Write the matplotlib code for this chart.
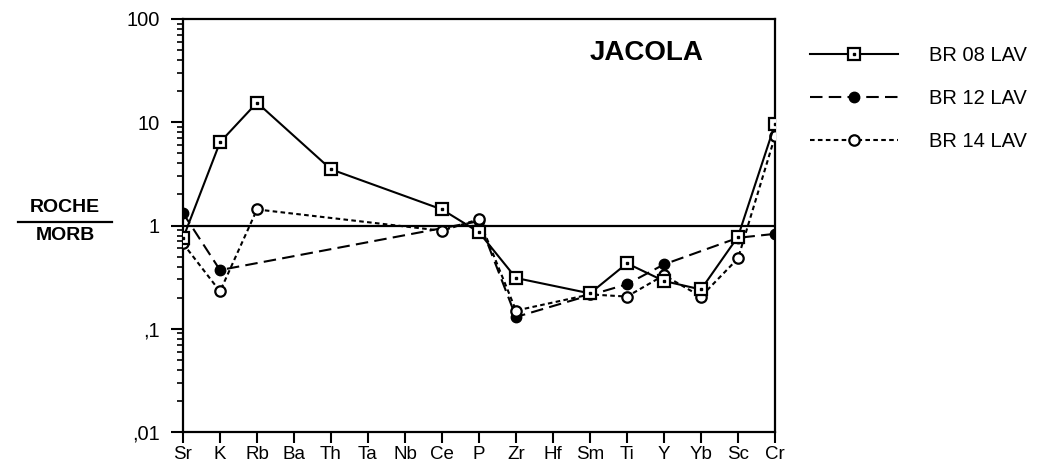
import numpy as np
import matplotlib
matplotlib.use('Agg')
import matplotlib.pyplot as plt
from matplotlib.ticker import FixedLocator, LogLocator, NullFormatter

plt.rcParams['font.family'] = ['Liberation Sans', 'DejaVu Sans']

# elements along the x axis (spider diagram, normalised to MORB)
elements = ['Sr', 'K', 'Rb', 'Ba', 'Th', 'Ta', 'Nb', 'Ce', 'P', 'Zr', 'Hf',
            'Sm', 'Ti', 'Y', 'Yb', 'Sc', 'Cr']
nan = np.nan
br08 = [0.75, 6.4, 15.5, nan, 3.5, nan, nan, 1.43, 0.86, 0.31, nan,
        0.22, 0.43, 0.29, 0.24, 0.78, 9.6]
br12 = [1.32, 0.37, nan, nan, nan, nan, nan, nan, 1.1, 0.13, nan,
        nan, 0.27, 0.42, nan, 0.76, 0.83]
br14 = [0.67, 0.23, 1.43, nan, nan, nan, nan, 0.89, 1.15, 0.15, nan,
        0.215, 0.205, 0.33, 0.205, 0.48, 7.3]
labels = ['BR 08 LAV', 'BR 12 LAV', 'BR 14 LAV']
ytick_vals = [0.01, 0.1, 1, 10, 100]
ytick_labels = [',01', ',1', '1', '10', '100']

W, H = 1051, 476
fig = plt.figure(figsize=(W / 100, H / 100), dpi=100)
ax = fig.add_axes([183 / W, 1 - 432 / H, (775 - 183) / W, (432 - 19) / H])

x = np.arange(len(elements))


def valid(vals):
    v = np.array(vals, dtype=float)
    m = ~np.isnan(v)
    return x[m], v[m]


lw = 1.5
ax.axhline(1, color='black', lw=1.6, zorder=2)

xs, ys = valid(br12)
l12, = ax.plot(xs, ys, color='black', lw=lw, dashes=(6, 3), marker='o',
               ms=7.5, mfc='black', mec='black', zorder=3)

xs, ys = valid(br14)
l14, = ax.plot(xs, ys, color='black', lw=lw, dashes=(2.2, 1.6), marker='o',
               ms=7.5, mfc='white', mec='black', mew=1.6, zorder=4)

xs, ys = valid(br08)
l08, = ax.plot(xs, ys, color='black', lw=lw, marker='s', ms=8,
               mfc='white', mec='black', mew=1.6, zorder=5)
d08, = ax.plot(xs, ys, ls='none', marker='s', ms=2, color='black', zorder=6)

ax.set_yscale('log')
ax.set_ylim(0.01, 100)
ax.set_xlim(0, len(elements) - 1)

ax.set_xticks(x)
ax.set_xticklabels(elements, fontsize=13.5)
ax.yaxis.set_major_locator(FixedLocator(ytick_vals))
ax.set_yticklabels(ytick_labels, fontsize=14.5)
ax.yaxis.set_minor_locator(LogLocator(base=10, subs=np.arange(2, 10)))
ax.yaxis.set_minor_formatter(NullFormatter())

ax.tick_params(axis='x', direction='out', length=8, width=1.5, pad=2)
ax.tick_params(axis='y', which='major', direction='out', length=8.5,
               width=1.5, pad=8)
ax.tick_params(axis='y', which='minor', direction='out', length=4, width=1.2)
for sp in ax.spines.values():
    sp.set_linewidth(1.6)

ax.text(647 / W, 1 - 53 / H, 'JACOLA', transform=fig.transFigure,
        fontsize=20, fontweight='bold', ha='center', va='center')

# y label as a fraction ROCHE / MORB
fig.text(65 / W, 1 - 208 / H, 'ROCHE', fontsize=14, fontweight='bold',
         ha='center', va='center')
fig.text(65 / W, 1 - 235 / H, 'MORB', fontsize=14, fontweight='bold',
         ha='center', va='center')
fig.add_artist(plt.Line2D([18 / W, 112 / W], [1 - 222 / H, 1 - 222 / H],
                          color='black', lw=1.6, transform=fig.transFigure))

fig.legend([(l08, d08), l12, l14], labels, loc='upper left',
           bbox_to_anchor=(810 / W, 1 - 46 / H), frameon=False,
           borderpad=0, borderaxespad=0, handlelength=4.35,
           handletextpad=1.55, labelspacing=1.2, fontsize=14.5, numpoints=1)

fig.savefig('out.png', dpi=100)
